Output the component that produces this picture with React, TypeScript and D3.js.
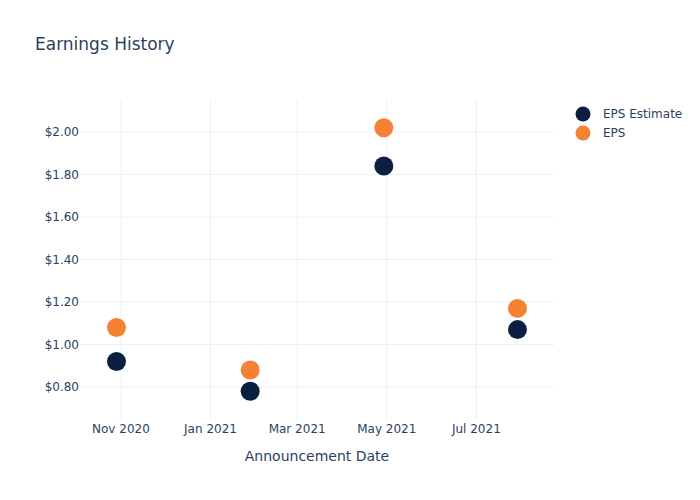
import React from "react";
import * as d3 from "d3";

const dates = ["2020-10-29", "2021-01-28", "2021-04-29", "2021-07-29"];
const epsEstimate = [0.92, 0.78, 1.84, 1.07];
const eps = [1.08, 0.88, 2.02, 1.17];
const yTicks = [0.8, 1.0, 1.2, 1.4, 1.6, 1.8, 2.0];
const xTicks = ["2020-11-01", "2021-01-01", "2021-03-01", "2021-05-01", "2021-07-01"];
const seriesNames = ["EPS Estimate", "EPS"];
const colors = ["#0b1f41", "#f58233"];

const W = 700, H = 500;
const L = 80, R = 554, T = 100, B = 420;
const font = "'DejaVu Sans', sans-serif";
const textColor = "#2a3f5f";

export default function App() {
  const parse = d3.utcParse("%Y-%m-%d");
  const pd = dates.map((d) => parse(d)!);
  const ext = d3.extent(pd) as [Date, Date];
  const span = ext[1].getTime() - ext[0].getTime();
  const pad = span * (36.5 / 401);
  const x = d3
    .scaleUtc()
    .domain([new Date(ext[0].getTime() - pad), new Date(ext[1].getTime() + pad)])
    .range([L, R]);
  const y = d3.scaleLinear().domain([0.6447, 2.1506]).range([B, T]);
  const fmt = d3.utcFormat("%b %Y");
  const series = [epsEstimate, eps];

  return (
    <svg width={W} height={H} style={{ position: "absolute", left: 0, top: 0, background: "#fff" }}>
      <rect width={W} height={H} fill="#fff" />
      <text x={35} y={50} fontFamily={font} fontSize={17} fill={textColor}>
        Earnings History
      </text>
      {yTicks.map((t) => (
        <g key={"y" + t}>
          <line x1={L} x2={R} y1={y(t)} y2={y(t)} stroke="#ebf0f8" strokeWidth={1} />
          <text x={79} y={y(t)} dy="0.35em" textAnchor="end" fontFamily={font} fontSize={12} fill={textColor}>
            {"$" + t.toFixed(2)}
          </text>
        </g>
      ))}
      {xTicks.map((t) => {
        const d = parse(t)!;
        return (
          <g key={"x" + t}>
            <line x1={x(d)} x2={x(d)} y1={T} y2={B} stroke="#ebf0f8" strokeWidth={1} />
            <text x={x(d)} y={433} textAnchor="middle" fontFamily={font} fontSize={12} fill={textColor}>
              {fmt(d)}
            </text>
          </g>
        );
      })}
      <text x={(L + R) / 2} y={461} textAnchor="middle" fontFamily={font} fontSize={14} fill={textColor}>
        Announcement Date
      </text>
      {series.map((s, si) =>
        s.map((v, i) => (
          <circle key={si + "-" + i} cx={x(pd[i])} cy={y(v)} r={9.5} fill={colors[si]} />
        ))
      )}
      {seriesNames.map((n, i) => (
        <g key={n} transform={`translate(0, ${114 + i * 19})`}>
          <circle cx={583} cy={0} r={7.5} fill={colors[i]} />
          <text x={603} y={0} dy="0.35em" fontFamily={font} fontSize={12} fill={textColor}>
            {n}
          </text>
        </g>
      ))}
    </svg>
  );
}
